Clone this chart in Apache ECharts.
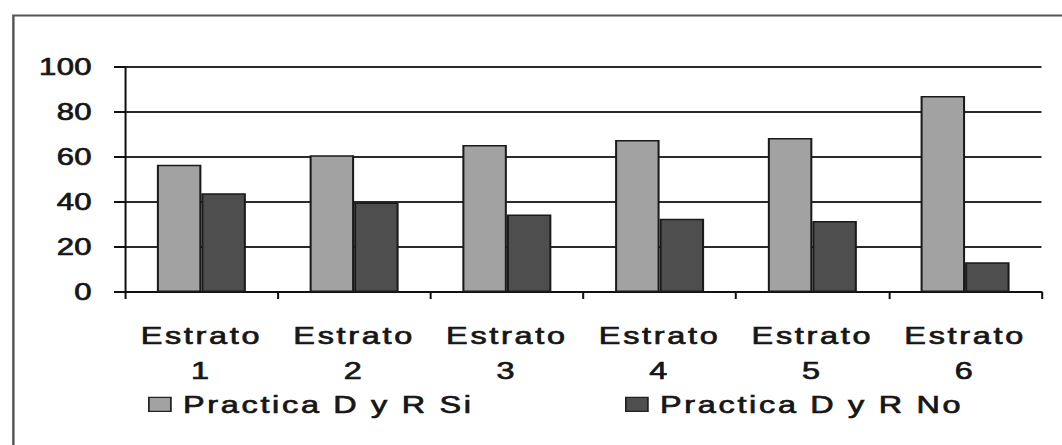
<!DOCTYPE html>
<html>
<head>
<meta charset="utf-8">
<script src="https://cdn.jsdelivr.net/npm/echarts@6/dist/echarts.min.js"></script>
<style>
  html, body { margin: 0; padding: 0; background: #fff; overflow: hidden; }
  /* the chart is laid out narrower and stretched sideways, giving the wide lettering */
  #chart { height: 445px; transform-origin: 0 0; }
  #chart text { letter-spacing: 2px; }
  #chart text[style*="23px"] { letter-spacing: 0.3px; }
</style>
</head>
<body>
<div id="chart"></div>
<script>
// Strata (category axis)
const categories = ['Estrato\n1', 'Estrato\n2', 'Estrato\n3', 'Estrato\n4', 'Estrato\n5', 'Estrato\n6'];
// Percentage practising D y R, per stratum
const practicaSi = [56.6, 60.8, 65.3, 67.6, 68.4, 87.1];
const practicaNo = [43.9, 39.8, 34.5, 32.6, 31.6, 13.2];
const seriesNames = ['Practica D y R Si', 'Practica D y R No'];
// Value axis
const yMin = 0, yMax = 100, yStep = 20;

// horizontal stretch of the whole drawing
const K = 1.35;
const pageW = 1062;
const sx = v => v / K;   // page x-distance -> layout x-distance

const el = document.getElementById('chart');
el.style.width = (pageW / K) + 'px';
el.style.transform = 'scaleX(' + K + ')';

const font = 'Liberation Sans, Arial, sans-serif';
const ink = '#161616';
// regular glyphs thickened slightly with an outline of the same ink
const heavy = { color: ink, textBorderColor: ink, textBorderWidth: 0.7 };

const legendText = Object.assign({ fontFamily: font, fontSize: 24, padding: [0, 0, 0, 4], lineHeight: 24 }, heavy);

const chart = echarts.init(el, null, { renderer: 'svg' });
chart.setOption({
  backgroundColor: '#ffffff',
  animation: false,
  graphic: [{
    type: 'rect',
    left: sx(10), top: 13,
    shape: { width: 1000, height: 500 },
    style: { fill: 'none', stroke: '#555', lineWidth: 1.8 },
    silent: true, z: 0
  }],
  grid: { left: sx(125), right: sx(pageW - 1041), top: 67, bottom: 153 },
  legend: [
    {
      data: [seriesNames[0]],
      left: sx(148), top: 392, padding: 0,
      itemWidth: sx(22), itemHeight: 14,
      icon: 'rect',
      itemStyle: { borderColor: '#222', borderWidth: 1.3 },
      textStyle: legendText
    },
    {
      data: [seriesNames[1]],
      left: sx(625), top: 392, padding: 0,
      itemWidth: sx(22), itemHeight: 14,
      icon: 'rect',
      itemStyle: { borderColor: '#222', borderWidth: 1.3 },
      textStyle: legendText
    }
  ],
  xAxis: {
    type: 'category',
    data: categories,
    axisLine: { lineStyle: { color: '#111', width: 2 } },
    axisTick: { show: true, length: 7, lineStyle: { color: '#111', width: 1.5 } },
    axisLabel: Object.assign({
      interval: 0,
      margin: 26,
      fontFamily: font, fontSize: 24, lineHeight: 35
    }, heavy),
    splitLine: { show: false }
  },
  yAxis: {
    type: 'value',
    min: yMin, max: yMax, interval: yStep,
    axisLine: { show: true, lineStyle: { color: '#111', width: 1.5 } },
    axisTick: { show: true, length: sx(11), lineStyle: { color: '#111', width: 2 } },
    axisLabel: Object.assign({
      margin: sx(33),
      padding: [13, 0, 0, 0],
      fontFamily: font, fontSize: 23
    }, heavy),
    splitLine: { show: true, lineStyle: { color: '#2a2a2a', width: 2 } }
  },
  series: [
    {
      name: seriesNames[0],
      type: 'bar',
      data: practicaSi,
      barWidth: sx(44.5),
      barGap: '0%',
      itemStyle: { color: '#a2a2a2', borderColor: '#1a1a1a', borderWidth: 1.5 }
    },
    {
      name: seriesNames[1],
      type: 'bar',
      data: practicaNo,
      barWidth: sx(44.5),
      barGap: '0%',
      itemStyle: { color: '#4e4e4e', borderColor: '#1a1a1a', borderWidth: 1.5 }
    }
  ]
});
</script>
</body>
</html>
